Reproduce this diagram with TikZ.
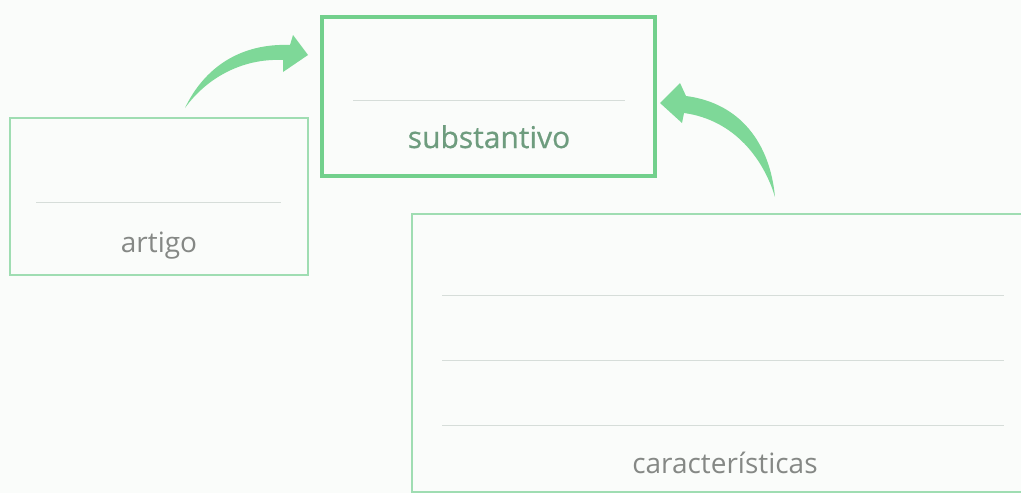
\documentclass[tikz,border=0pt]{standalone}
\usepackage{fontspec}
\setmainfont{Open Sans}
\newfontfamily\semib[FakeBold=0.6]{Open Sans}
\definecolor{bg}{HTML}{FAFCFA}
\definecolor{boxgreen}{HTML}{72D08C}
\definecolor{thingreen}{HTML}{9FDDB2}
\definecolor{arrowgreen}{HTML}{7ED898}
\definecolor{rulegray}{HTML}{D6DDD9}
\definecolor{labelgreen}{HTML}{6E9C7E}
\definecolor{labelgray}{HTML}{858885}
\begin{document}
\begin{tikzpicture}[x=1pt,y=-1pt,
  mainbox/.style={draw=boxgreen,line width=4.5pt,rectangle,inner sep=0pt},
  sidebox/.style={draw=thingreen,line width=1.5pt,rectangle,inner sep=0pt},
  rule/.style={draw=rulegray,line width=1pt},
  swoosh/.style={fill=arrowgreen,draw=none},
  lab/.style={anchor=base,inner sep=0pt,font=\fontsize{28}{32}\selectfont,text=labelgray}]
\fill[bg] (0,0) rectangle (1021,493);
\useasboundingbox (0,0) rectangle (1021,493);
% boxes
\node[mainbox,minimum width=333pt,minimum height=159pt] (subst) at (488.5,96.5) {};
\node[sidebox,minimum width=298pt,minimum height=157pt] (artigo) at (159,196.5) {};
\node[sidebox,minimum width=640pt,minimum height=278pt] (carac) at (732,353) {};
% rules
\coordinate (s1) at (353,100); \coordinate (s2) at (625,100);
\draw[rule] (s1) -- (s2);
\coordinate (a1) at (36,202); \coordinate (a2) at (281,202);
\draw[rule] (a1) -- (a2);
\foreach \yy [count=\i] in {295,360,425}{
  \coordinate (cl\i) at (442,\yy); \coordinate (cr\i) at (1004,\yy);
  \draw[rule] (cl\i) -- (cr\i);
}
% labels
\node[lab,text=labelgreen,font=\semib\fontsize{30}{34}\selectfont] (tsubst) at (489,148) {substantivo};
\node[lab] (tartigo) at (159,252) {artigo};
\node[lab] (tcarac) at (725,473) {características};
% arrows
\fill[swoosh] (185,108) .. controls (204,68) and (240,43) .. (290,45)
  -- (293,35) -- (308,55) -- (283,72) -- (283,60)
  .. controls (240,58) and (205,80) .. (185,108) -- cycle;
\fill[swoosh] (775,197) .. controls (770,143) and (740,103) .. (686,96)
  -- (680,83) -- (660,103) -- (682,123) -- (684,113)
  .. controls (735,120) and (764,160) .. (775,197) -- cycle;
\end{tikzpicture}
\end{document}
